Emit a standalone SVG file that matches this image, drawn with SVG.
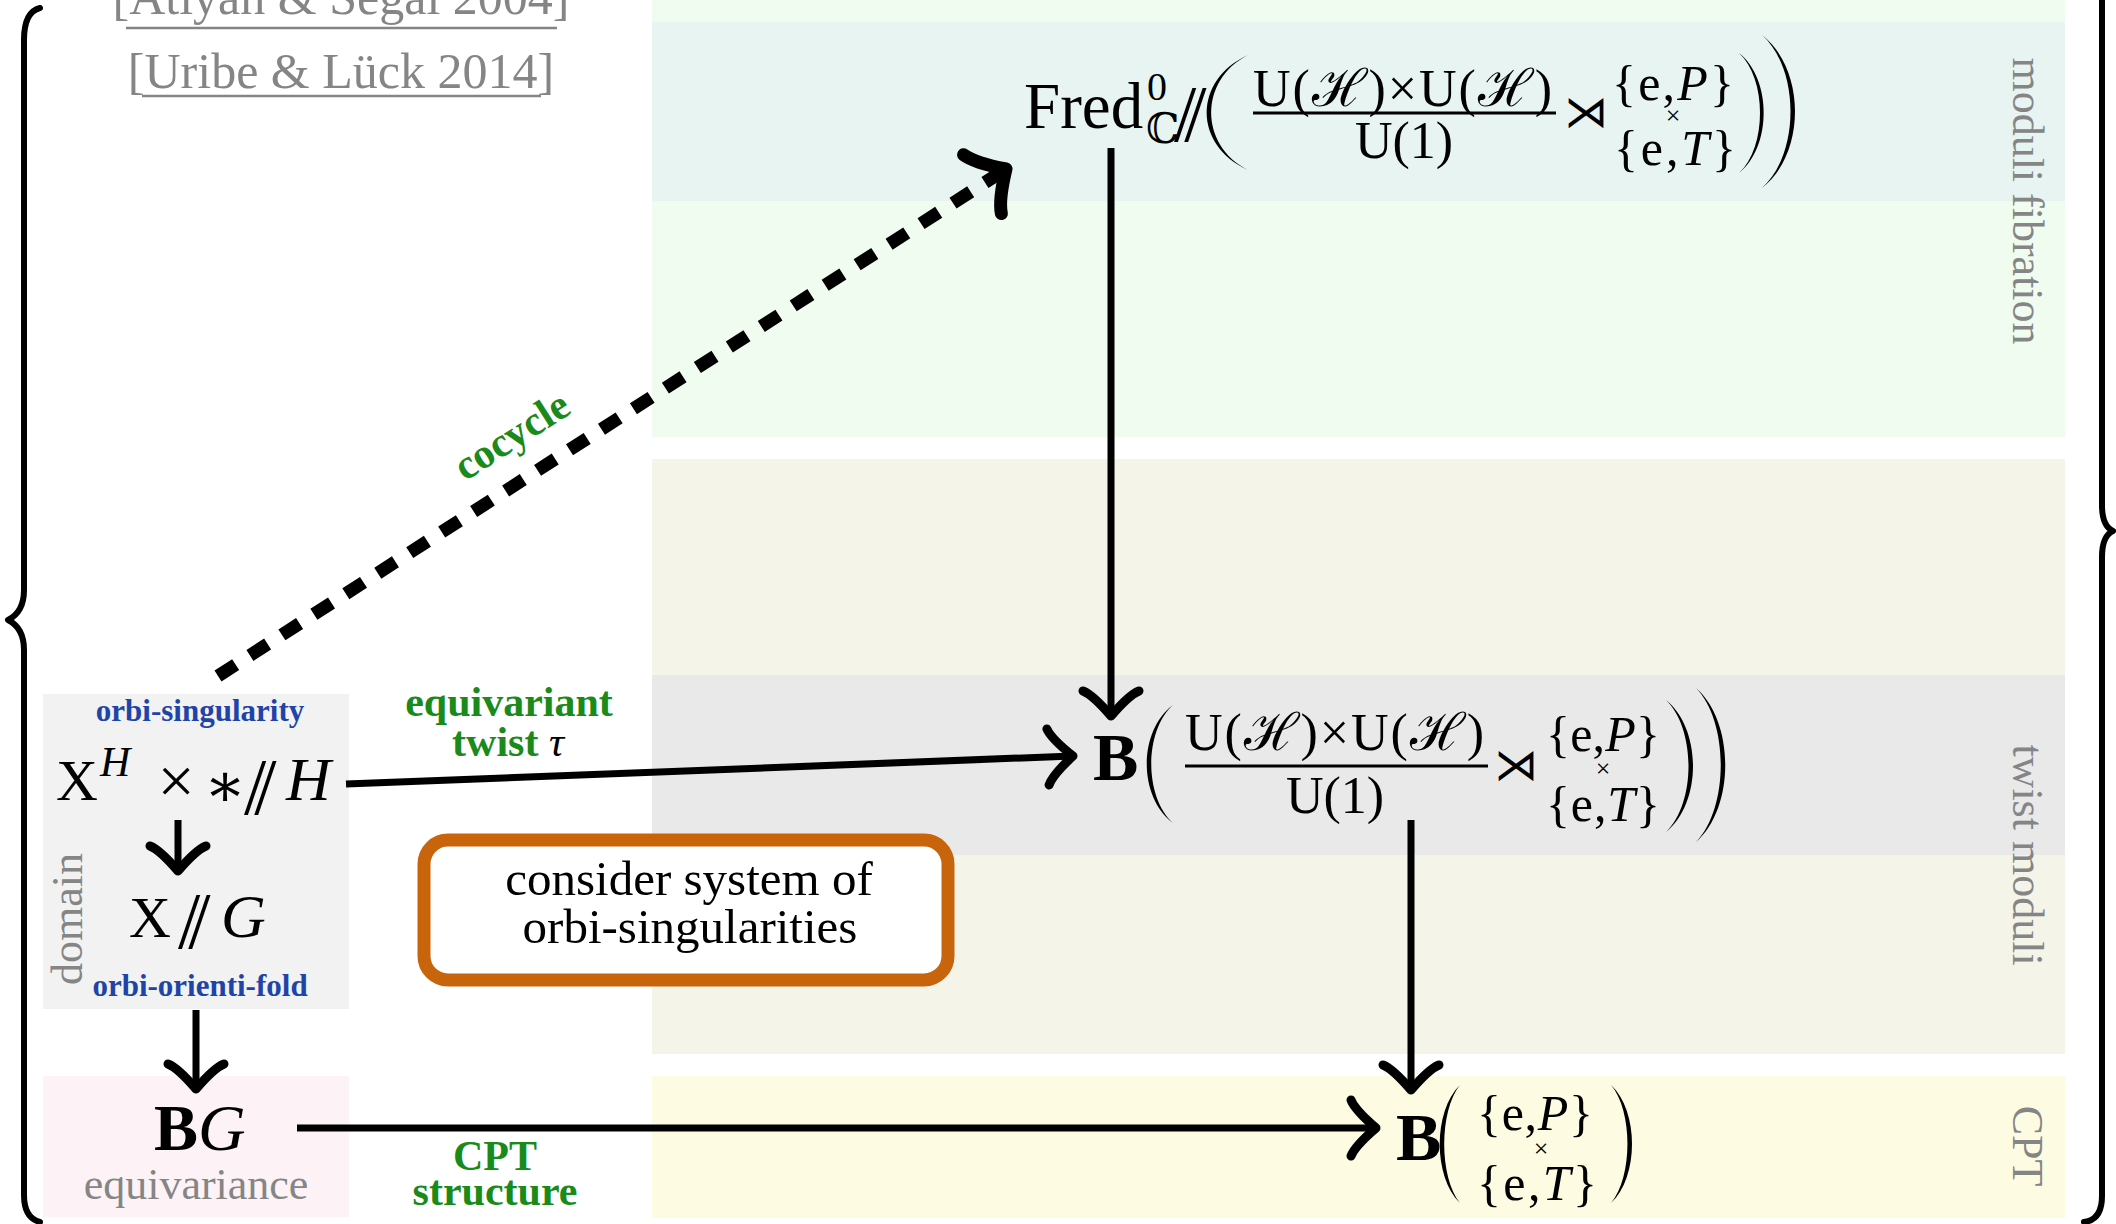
<svg xmlns="http://www.w3.org/2000/svg" width="2116" height="1224" viewBox="0 0 2116 1224">
<style>
text { font-family: "Liberation Serif", "DejaVu Serif", serif; fill: #000; }
.g { fill: #1a8a1a; font-weight: bold; font-size: 42px; }
.bl { fill: #1f44a8; font-weight: bold; font-size: 31px; }
.gr { fill: #858585; font-size: 44px; }
.cite { fill: #858585; font-size: 50px; }
.it { font-style: italic; }
.bf { font-weight: bold; }
.ln { stroke: #000; stroke-width: 7; fill: none; }
.dash { stroke: #000; stroke-width: 13; fill: none; stroke-dasharray: 21 17; }
.ul { stroke: #858585; stroke-width: 2.5; }
.delim { fill: #000; stroke: none; }
.brace { stroke: #000; stroke-width: 6; fill: none; stroke-linecap: round; stroke-linejoin: round; }
.bar { stroke: #000; stroke-width: 3; }
.num { font-size: 52px; }
.set { font-size: 50px; }
.tm { font-size: 26px; }
</style>
<defs>
<marker id="ah" markerUnits="userSpaceOnUse" viewBox="-40 -40 50 80" markerWidth="50" markerHeight="80" refX="0" refY="0" orient="auto" overflow="visible">
<path d="M-25,-28 Q-21,-18 0,0 Q-21,18 -25,28" fill="none" stroke="#000" stroke-width="9" stroke-linecap="round" stroke-linejoin="round"/>
</marker>
<marker id="ahc" markerUnits="userSpaceOnUse" viewBox="-50 -50 60 100" markerWidth="60" markerHeight="100" refX="0" refY="0" orient="auto" overflow="visible">
<path d="M-28,-35 Q-23,-22 0,0 Q-23,22 -28,35" fill="none" stroke="#000" stroke-width="13" stroke-linecap="round" stroke-linejoin="round" stroke-dasharray="none"/>
</marker>
</defs>

<g id="backgrounds">
<rect x="652" y="0" width="1413" height="437" fill="#f1fcf0"/>
<rect x="652" y="22" width="1413" height="179" fill="#e7f4f1"/>
<rect x="652" y="459" width="1413" height="595" fill="#f4f4e9"/>
<rect x="652" y="675" width="1413" height="180" fill="#e9e9e9"/>
<rect x="652" y="1076" width="1413" height="142" fill="#fdfce3"/>
<rect x="43" y="694" width="306" height="315" fill="#f2f2f2"/>
<rect x="43" y="1076" width="306" height="141" fill="#fdf3f7"/>
</g>

<g id="braces">
<path class="brace" d="M40,8 Q24,12 24,40 L24,590 Q24,612 8,620 Q24,628 24,650 L24,1195 Q24,1218 40,1222"/>
<path class="brace" d="M2102,-20 L2102,505 Q2102,526 2113,531 Q2102,536 2102,557 L2102,1196 Q2102,1220 2084,1222"/>
</g>

<g id="citations">
<text class="cite" x="341" y="14" text-anchor="middle">[Atiyah &amp; Segal 2004]</text>
<line class="ul" x1="126" y1="28" x2="557" y2="28"/>
<text class="cite" x="341" y="88" text-anchor="middle">[Uribe &amp; Lück 2014]</text>
<line class="ul" x1="142" y1="96" x2="541" y2="96"/>
</g>

<g id="side-labels">
<text class="gr" transform="translate(2013,201) rotate(90)" text-anchor="middle">moduli fibration</text>
<text class="gr" transform="translate(2013,855) rotate(90)" text-anchor="middle">twist moduli</text>
<text class="gr" transform="translate(2013,1146) rotate(90)" text-anchor="middle">CPT</text>
</g>

<g id="node-fred">
<text x="1024" y="128" font-size="65">Fred</text>
<text x="1147" y="100" font-size="40">0</text>
<text x="1146" y="143" font-size="42">ℂ</text>
<text x="1174" y="141" font-size="80" letter-spacing="-12">//</text>
<path class="delim" d="M1248,55 C1193,80 1193,145 1248,170 C1199,145 1199,80 1248,55 Z"/>
<text class="num" x="1253" y="106" textLength="299" lengthAdjust="spacing">U(ℋ)×U(ℋ)</text>
<line class="bar" x1="1253" y1="113" x2="1556" y2="113"/>
<text class="num" x="1404" y="158" text-anchor="middle">U(1)</text>
<text x="1586" y="127" font-size="44" text-anchor="middle">⋊</text>
<text class="set" x="1612" y="100" textLength="122" lengthAdjust="spacing">{e,<tspan class="it">P</tspan>}</text>
<text class="tm" x="1673" y="124" text-anchor="middle">×</text>
<text class="set" x="1614" y="165" textLength="122" lengthAdjust="spacing">{e,<tspan class="it">T</tspan>}</text>
<path class="delim" d="M1739,53 C1772,79 1772,147 1739,173 C1767,147 1767,79 1739,53 Z"/>
<path class="delim" d="M1762,35 C1806,69 1806,154 1762,188 C1800,154 1800,69 1762,35 Z"/>
</g>

<g id="node-twist">
<text x="1093" y="780" font-size="68" class="bf">B</text>
<path class="delim" d="M1173,705 C1138,731 1138,797 1173,823 C1144,797 1144,731 1173,705 Z"/>
<text class="num" x="1185" y="750" textLength="299" lengthAdjust="spacing">U(ℋ)×U(ℋ)</text>
<line class="bar" x1="1185" y1="766" x2="1488" y2="766"/>
<text class="num" x="1335" y="813" text-anchor="middle">U(1)</text>
<text x="1516" y="780" font-size="44" text-anchor="middle">⋊</text>
<text class="set" x="1546" y="751" textLength="114" lengthAdjust="spacing">{e,<tspan class="it">P</tspan>}</text>
<text class="tm" x="1603" y="777" text-anchor="middle">×</text>
<text class="set" x="1546" y="821" textLength="114" lengthAdjust="spacing">{e,<tspan class="it">T</tspan>}</text>
<path class="delim" d="M1666,700 C1702,729 1702,803 1666,832 C1696,803 1696,729 1666,700 Z"/>
<path class="delim" d="M1696,688 C1735,722 1735,808 1696,842 C1729,808 1729,722 1696,688 Z"/>
</g>

<g id="node-cpt">
<text x="1396" y="1160" font-size="68" class="bf">B</text>
<path class="delim" d="M1460,1085 C1433,1111 1433,1177 1460,1203 C1439,1177 1439,1111 1460,1085 Z"/>
<text class="set" x="1477" y="1130" textLength="116" lengthAdjust="spacing">{e,<tspan class="it">P</tspan>}</text>
<text class="tm" x="1541" y="1157" text-anchor="middle">×</text>
<text class="set" x="1477" y="1200" textLength="120" lengthAdjust="spacing">{e,<tspan class="it">T</tspan>}</text>
<path class="delim" d="M1611,1085 C1639,1111 1639,1177 1611,1203 C1633,1177 1633,1111 1611,1085 Z"/>
</g>

<g id="node-orbi-singularity">
<text class="bl" x="200" y="721" text-anchor="middle">orbi-singularity</text>
<text x="56" y="800" font-size="58">X</text>
<text x="100" y="776" font-size="42" class="it">H</text>
<text x="176" y="803" font-size="66" text-anchor="middle">×</text>
<text x="225" y="806" font-size="62" text-anchor="middle" font-family="DejaVu Serif, serif">∗</text>
<text x="244" y="814" font-size="80" letter-spacing="-12">//</text>
<text x="286" y="800" font-size="62" class="it">H</text>
</g>

<g id="node-orbi-orientifold">
<text x="129" y="937" font-size="58">X</text>
<text x="178" y="948" font-size="80" letter-spacing="-12">//</text>
<text x="221" y="937" font-size="62" class="it">G</text>
<text class="bl" x="200" y="996" text-anchor="middle">orbi-orienti-fold</text>
<text class="gr" transform="translate(82,919) rotate(-90)" text-anchor="middle">domain</text>
</g>

<g id="node-bg">
<text x="154" y="1150" font-size="66" class="bf">B<tspan class="it" font-weight="normal">G</tspan></text>
<text class="gr" x="196" y="1199" text-anchor="middle">equivariance</text>
</g>

<g id="node-consider">
<rect x="424" y="840" width="524" height="140" rx="24" fill="#fff" stroke="#c8640c" stroke-width="13"/>
<text x="689" y="895" font-size="49" text-anchor="middle">consider system of</text>
<text x="690" y="943" font-size="49" text-anchor="middle">orbi-singularities</text>
</g>

<g id="connectors">
<path class="ln" d="M1111,148 L1111,716" marker-end="url(#ah)"/>
<path class="ln" d="M346,784 L1073,756" marker-end="url(#ah)"/>
<path class="ln" d="M1411,820 L1411,1090" marker-end="url(#ah)"/>
<path class="ln" d="M297,1128 L1376,1128" marker-end="url(#ah)"/>
<path class="ln" d="M178,820 L178,871" marker-end="url(#ah)"/>
<path class="ln" d="M196,1010 L196,1089" marker-end="url(#ah)"/>
<path class="dash" d="M218,676 L1006,169" marker-end="url(#ahc)"/>
</g>

<g id="connector-labels">
<text class="g" transform="translate(519,447) rotate(-32.7)" text-anchor="middle">cocycle</text>
<text class="g" x="509" y="716" text-anchor="middle">equivariant</text>
<text class="g" x="508" y="756" text-anchor="middle">twist <tspan class="it" fill="#000" font-weight="normal">τ</tspan></text>
<text class="g" x="495" y="1170" text-anchor="middle">CPT</text>
<text class="g" x="495" y="1205" text-anchor="middle">structure</text>
</g>
</svg>
